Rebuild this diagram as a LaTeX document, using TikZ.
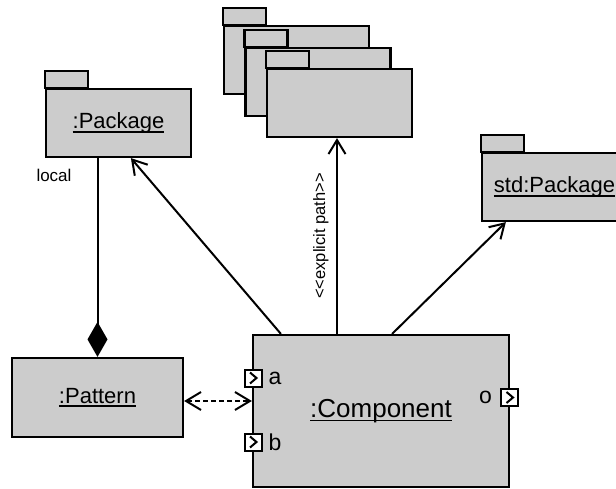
\documentclass[tikz,border=0pt]{standalone}
\usepackage{fontspec}
\setmainfont{Liberation Sans}[Ligatures=TeXOff]
\usetikzlibrary{arrows.meta}

\definecolor{umlgray}{RGB}{204,204,204}

% underlined object name
\newsavebox{\objnamebox}
\newcommand{\objname}[1]{\sbox{\objnamebox}{#1}\rlap{\rule[-4pt]{\wd\objnamebox}{1.8pt}}\usebox{\objnamebox}}

\tikzset{
  pkgbody/.style={draw, fill=umlgray, line width=2.2pt, minimum width=145pt, minimum height=68pt, inner sep=0pt, font=\fontsize{22}{26}\selectfont},
  pkgtab/.style={draw, fill=umlgray, line width=2.2pt},
  objbox/.style={draw, fill=umlgray, line width=2.2pt, inner sep=0pt},
  port/.style={draw, fill=white, line width=2pt, minimum size=17pt, inner sep=0pt,
    path picture={\draw[line width=2pt] ([xshift=-3pt,yshift=5.5pt]path picture bounding box.center) -- ++(6.5pt,-5.5pt) -- ++(-6.5pt,-5.5pt);}},
  portlabel/.style={inner sep=0pt, font=\fontsize{23}{27}\selectfont},
  assoc/.style={line width=2pt, -{Straight Barb[length=14pt,width=17pt]}},
  dep/.style={line width=2pt, dash pattern=on 5pt off 3pt, {Straight Barb[length=15pt,width=18pt]}-{Straight Barb[length=15pt,width=18pt]}},
  compos/.style={line width=2pt, -{Diamond[length=35pt,width=20pt]}}
}

\begin{document}
\begin{tikzpicture}[x=1pt,y=-1pt]
\useasboundingbox (0,0) rectangle (616,489);
\clip (0,0) rectangle (616,489);

% Packages
\node[pkgbody] (pkg) at (118.5,123) {\objname{:Package}};
\draw[pkgtab] (pkg.north west) rectangle ++(43,-17);
\node[font=\fontsize{17}{20}\selectfont] (local) at (54,175) {local};

\node[pkgbody] (set1) at (296.5,60) {};
\draw[pkgtab] (set1.north west) rectangle ++(43,-17);
\node[pkgbody] (set2) at (318,82) {};
\draw[pkgtab] (set2.north west) rectangle ++(43,-17);
\node[pkgbody] (set3) at (339.5,103) {};
\draw[pkgtab] (set3.north west) rectangle ++(43,-17);

\node[pkgbody] (std) at (554.5,187) {\objname{std:Package}};
\draw[pkgtab] (std.north west) rectangle ++(43,-17);

% Objects
\node[objbox, minimum width=171pt, minimum height=79pt, font=\fontsize{22}{26}\selectfont] (pat) at (97.5,397.5) {\objname{:Pattern}};
\node[objbox, minimum width=256pt, minimum height=152pt, font=\fontsize{26}{30}\selectfont] (comp) at (381,411) {\objname{:Component}};

% Ports
\node[port] (pa) at (253,378) {};
\node[port] (pb) at (253,442) {};
\node[port] (po) at (509.5,397.5) {};
\node[portlabel, anchor=west] (la) at ([xshift=6pt]pa.east) {a};
\node[portlabel, anchor=west] (lb) at ([xshift=6pt]pb.east) {b};
\node[portlabel, anchor=east] (lo) at ([xshift=-8pt]po.west) {o};

% Connectors
\draw[compos] (pat.north |- pkg.south) -- (pat.north);
\draw[dep] ([yshift=-3.5pt]pat.east) -- ([yshift=-3.5pt]pat.east -| comp.west);
\draw[assoc] ([xshift=29pt]comp.north west) -- ([xshift=86pt]pkg.south west);
\draw[assoc] ([xshift=-2.5pt]set3.south |- comp.north) -- ([xshift=-2.5pt]set3.south)
  node[midway, left=4pt, rotate=90, anchor=south, font=\fontsize{16.5}{19}\selectfont] (path) {<<explicit path>>};
\draw[assoc] ([xshift=-118pt]comp.north east) -- ([xshift=25pt]std.south west);

\end{tikzpicture}
\end{document}
